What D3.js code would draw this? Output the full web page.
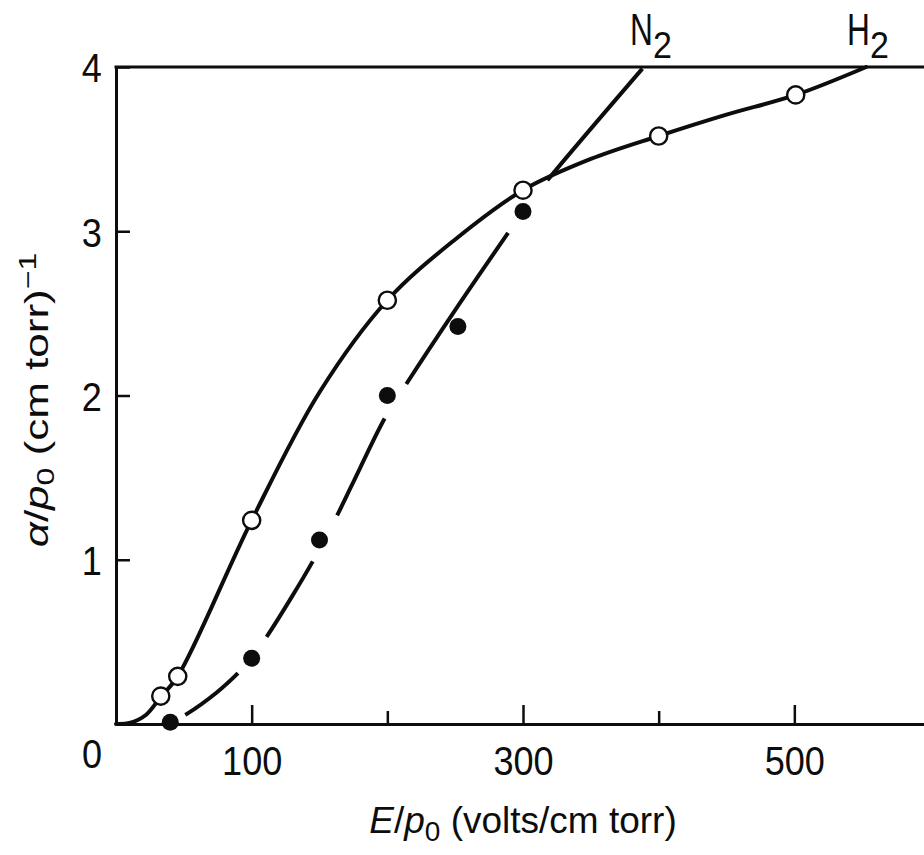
<!DOCTYPE html>
<html><head><meta charset="utf-8">
<script src="https://cdn.jsdelivr.net/npm/d3@7"></script>
<style>body{margin:0;background:#fff}svg{display:block}</style>
</head><body>
<svg id="c" width="924" height="855"></svg>
<script>
// ---------- data ----------
const xMajorTicks = [100, 300, 500];
const xMinorTicks = [200, 400];
const yTicks = [1, 2, 3, 4];
const originLabel = "0";
const seriesNames = ["N", "H"]; // subscript 2 added
// H2 measured points (open circles)
const h2X = [33, 45.5, 100, 200, 300, 400, 501];
const h2Y = [0.17, 0.29, 1.24, 2.58, 3.25, 3.58, 3.83];
// H2 smooth curve
const h2CurveX = [0, 10, 22, 33, 45.5, 100, 150, 200, 250, 300, 350, 400, 450, 501, 553];
const h2CurveY = [0, 0.006, 0.055, 0.165, 0.29, 1.24, 2.02, 2.58, 2.95, 3.25, 3.44, 3.58, 3.71, 3.83, 4.0];
// N2 measured points (filled dots)
const n2X = [40, 100, 150, 200, 252, 300];
const n2Y = [0.01, 0.40, 1.12, 2.0, 2.42, 3.12];
// N2 curve
const n2CurveX = [38, 52, 74, 90, 100, 111, 130, 145, 163, 180, 198, 214, 250, 289, 300, 318, 388];
const n2CurveY = [0.0, 0.06, 0.19, 0.31, 0.40, 0.53, 0.78, 0.99, 1.27, 1.56, 1.86, 2.07, 2.52, 2.99, 3.12, 3.31, 3.99];
// visible stretches of the broken N2 line (x ranges)
const n2DashStart = [51, 111, 163, 214, 318];
const n2DashEnd = [89.9, 145, 198, 289, 388];

// ---------- chart ----------
const svg = d3.select("#c");
const x = d3.scaleLinear().domain([0, 600]).range([116, 930]);
const y = d3.scaleLinear().domain([0, 4]).range([724, 67]);
const INK = "#0d0d0d";
const FONT = "'Liberation Sans', Arial, Helvetica, sans-serif";

// axes
function styleAxis(g){
  g.select(".domain").attr("stroke", INK).attr("stroke-width", 3);
  g.selectAll(".tick line").attr("stroke", INK).attr("stroke-width", 2.5);
  g.selectAll(".tick text").attr("fill", INK).attr("font-family", FONT).attr("font-size", 41)
    .attr("transform", "scale(0.88,1)");
}
svg.append("g").attr("transform", `translate(0,${y(0)})`)
  .call(d3.axisBottom(x).tickValues(xMinorTicks).tickSize(-13).tickSizeOuter(0).tickFormat(""))
  .call(styleAxis);
svg.append("g").attr("transform", `translate(0,${y(0)})`)
  .call(d3.axisBottom(x).tickValues(xMajorTicks).tickSize(-19).tickSizeOuter(0).tickPadding(22).tickFormat(d3.format("d")))
  .call(styleAxis);
svg.append("g").attr("transform", `translate(${x(0)},0)`)
  .call(d3.axisLeft(y).tickValues(yTicks).tickSize(-14).tickSizeOuter(0).tickPadding(16).tickFormat(d3.format("d")))
  .call(styleAxis)
  .call(g => g.selectAll(".tick text").attr("dy", "0.36em"));
// top frame line
svg.append("line").attr("x1", x(0) - 1.5).attr("x2", 924).attr("y1", y(4)).attr("y2", y(4))
  .attr("stroke", INK).attr("stroke-width", 3);
// origin label
svg.append("text").attr("transform", `translate(${x(0) - 24},768) scale(0.88,1)`)
  .attr("text-anchor", "middle").attr("font-family", FONT).attr("font-size", 41).attr("fill", INK)
  .text(originLabel);

// curves
const line = d3.line().x(d => x(d[0])).y(d => y(d[1])).curve(d3.curveCatmullRom.alpha(0.5));
const h2Curve = h2CurveX.map((v, i) => [v, h2CurveY[i]]);
const n2Curve = n2CurveX.map((v, i) => [v, n2CurveY[i]]);

svg.append("path").attr("d", line(h2Curve)).attr("fill", "none")
  .attr("stroke", INK).attr("stroke-width", 4).attr("stroke-linecap", "round");

const n2Path = svg.append("path").attr("d", line(n2Curve)).attr("fill", "none")
  .attr("stroke", INK).attr("stroke-width", 4).attr("stroke-linecap", "butt");
const node = n2Path.node();
const total = node.getTotalLength();
function lenAtX(xv){
  const px = x(xv);
  let lo = 0, hi = total;
  for (let k = 0; k < 40; k++){
    const mid = (lo + hi) / 2;
    if (node.getPointAtLength(mid).x < px) lo = mid; else hi = mid;
  }
  return (lo + hi) / 2;
}
const dash = [0];
let prev = 0;
n2DashStart.forEach((s, i) => {
  const a = lenAtX(s), b = lenAtX(n2DashEnd[i]);
  dash.push(a - prev, b - a);
  prev = b;
});
dash.push(total - prev + 10);
n2Path.attr("stroke-dasharray", dash.join(","));

// markers
svg.append("g").selectAll("circle").data(n2X.map((v, i) => [v, n2Y[i]])).join("circle")
  .attr("cx", d => x(d[0])).attr("cy", d => y(d[1])).attr("r", 8.5).attr("fill", INK);
svg.append("g").selectAll("circle").data(h2X.map((v, i) => [v, h2Y[i]])).join("circle")
  .attr("cx", d => x(d[0])).attr("cy", d => y(d[1])).attr("r", 8.6)
  .attr("fill", "#fff").attr("stroke", INK).attr("stroke-width", 2.4);

// series labels
function seriesLabel(name, xPos){
  svg.append("text").attr("transform", `translate(${xPos},45) scale(0.72,1)`)
    .attr("font-family", FONT).attr("font-size", 44).attr("fill", INK).text(name);
  svg.append("text").attr("transform", `translate(${xPos + 23},58) scale(0.92,1)`)
    .attr("font-family", FONT).attr("font-size", 37).attr("fill", INK).text("2");
}
seriesLabel(seriesNames[0], 630);
seriesLabel(seriesNames[1], 847);

// x axis title
const xt = svg.append("text").attr("x", 523).attr("y", 833).attr("text-anchor", "middle")
  .attr("font-family", FONT).attr("font-size", 37).attr("fill", INK);
xt.append("tspan").attr("font-style", "italic").text("E");
xt.append("tspan").text("/");
xt.append("tspan").attr("font-style", "italic").text("p");
xt.append("tspan").attr("font-size", 28).attr("dy", 8).text("0");
xt.append("tspan").attr("dy", -8).text(" (volts/cm torr)");

// y axis title
const yt = svg.append("text").attr("transform", "translate(48,400) scale(0.75,1) rotate(-90)")
  .attr("text-anchor", "middle").attr("font-family", FONT).attr("font-size", 44).attr("fill", INK);
yt.append("tspan").attr("font-style", "italic").text("α");
yt.append("tspan").text("/");
yt.append("tspan").attr("font-style", "italic").text("p");
yt.append("tspan").attr("font-size", 32).attr("dy", 8).text("0");
yt.append("tspan").attr("dy", -8).text(" (cm torr)");
yt.append("tspan").attr("font-size", 32).attr("dy", -16).text("−1");
</script>
</body></html>
